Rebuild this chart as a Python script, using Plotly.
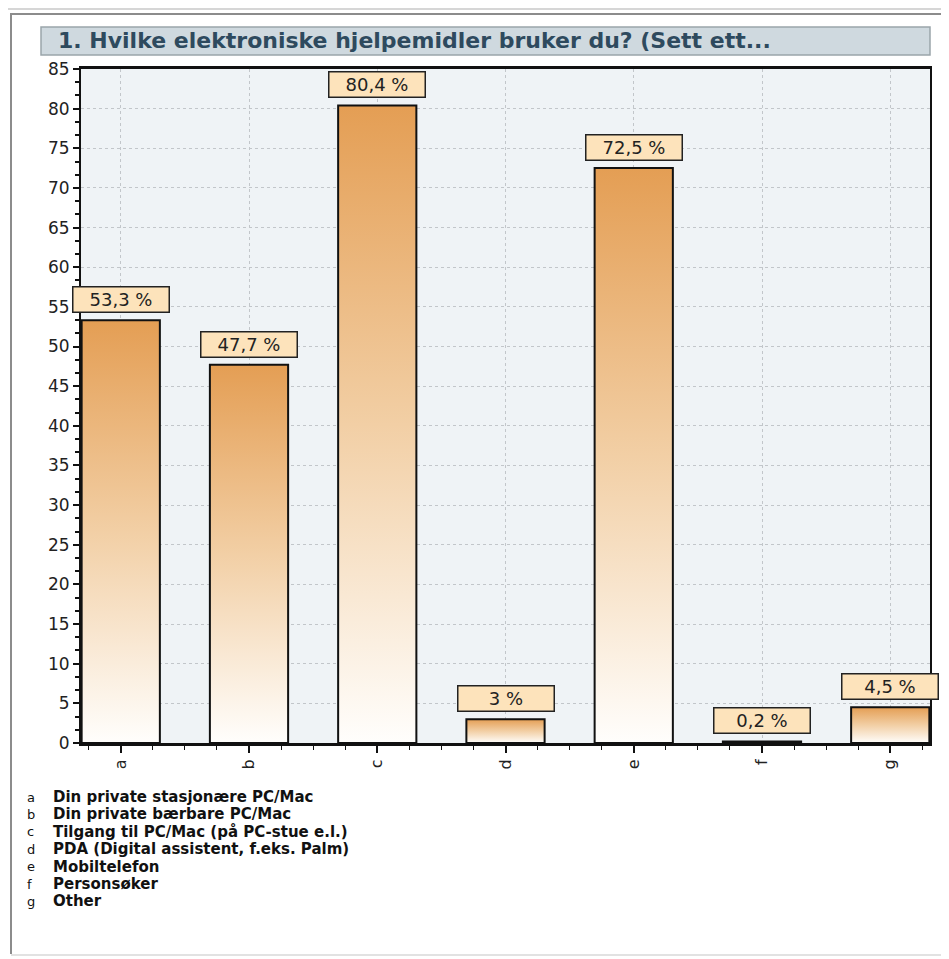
import plotly.graph_objects as go

# data
categories = ["a", "b", "c", "d", "e", "f", "g"]
values = [53.3, 47.7, 80.4, 3.0, 72.5, 0.2, 4.5]
value_labels = ["53,3 %", "47,7 %", "80,4 %", "3 %", "72,5 %", "0,2 %", "4,5 %"]
descriptions = [
    "Din private stasjonære PC/Mac",
    "Din private bærbare PC/Mac",
    "Tilgang til PC/Mac (på PC-stue e.l.)",
    "PDA (Digital assistent, f.eks. Palm)",
    "Mobiltelefon",
    "Personsøker",
    "Other",
]
y_ticks = list(range(0, 90, 5))
title_text = "1. Hvilke elektroniske hjelpemidler bruker du? (Sett ett..."

# page has an 8px body margin, so the figure is a bit smaller than the window
OFF = 8
W, H = 949 - OFF, 959 - OFF
# plot area in page pixels
PL, PR, PT, PB = 81, 930, 69, 743
FONT = "DejaVu Sans"
BAR_HALF = 0.305


def px_x(p):
    return (p - PL) / (PR - PL)


def px_y(p):
    return (PB - p) / (PB - PT)


fig = go.Figure()

# bars drawn as filled rectangles so each one gets its own vertical gradient
for i, v in enumerate(values):
    fig.add_trace(go.Scatter(
        x=[i - BAR_HALF, i + BAR_HALF, i + BAR_HALF, i - BAR_HALF, i - BAR_HALF],
        y=[0, 0, v, v, 0],
        mode="lines",
        fill="toself",
        fillgradient=dict(type="vertical",
                          colorscale=[[0, "#fffefc"], [0.5, "#f2cfa5"], [1, "#e49e54"]]),
        line=dict(color="#111111", width=2),
        hoverinfo="skip",
        showlegend=False,
    ))

annotations = []
for i, (v, lab) in enumerate(zip(values, value_labels)):
    annotations.append(dict(
        x=i, y=v, xref="x", yref="y", text=lab, showarrow=False,
        yanchor="bottom", yshift=7, width=93, height=22,
        font=dict(family=FONT, size=18, color="#222222"),
        bgcolor="#fde3bb", bordercolor="#222222", borderwidth=1.5, borderpad=1,
    ))

# title
annotations.append(dict(
    x=px_x(56), y=px_y(41), xref="paper", yref="paper", text="<b>%s</b>" % title_text,
    showarrow=False, xanchor="left", yanchor="middle",
    font=dict(family=FONT, size=22, color="#2e4a5e"),
))

# category legend below the chart
for k, (c, d) in enumerate(zip(categories, descriptions)):
    yy = px_y(797 + k * 17.4)
    annotations.append(dict(
        x=px_x(25), y=yy, xref="paper", yref="paper", text=c, showarrow=False,
        xanchor="left", yanchor="middle",
        font=dict(family=FONT, size=13, color="#111111"),
    ))
    annotations.append(dict(
        x=px_x(51), y=yy, xref="paper", yref="paper", text="<b>%s</b>" % d,
        showarrow=False, xanchor="left", yanchor="middle",
        font=dict(family=FONT, size=15, color="#111111"),
    ))

shapes = [
    # outer frame
    dict(type="line", xref="paper", yref="paper", x0=px_x(OFF), x1=px_x(949),
         y0=px_y(9), y1=px_y(9), line=dict(color="#d6d6d6", width=2), layer="below"),
    dict(type="line", xref="paper", yref="paper", x0=px_x(10), x1=px_x(949),
         y0=px_y(14), y1=px_y(14), line=dict(color="#8c8c8c", width=2), layer="below"),
    dict(type="line", xref="paper", yref="paper", x0=px_x(11), x1=px_x(11),
         y0=px_y(14), y1=px_y(954), line=dict(color="#8c8c8c", width=2), layer="below"),
    dict(type="line", xref="paper", yref="paper", x0=px_x(11), x1=px_x(949),
         y0=px_y(955), y1=px_y(955), line=dict(color="#e2e2e2", width=2), layer="below"),
    # title bar
    dict(type="rect", xref="paper", yref="paper", x0=px_x(41), x1=px_x(930),
         y0=px_y(55), y1=px_y(27), fillcolor="#cfd9df",
         line=dict(color="#9aa5ab", width=1.5), layer="below"),
]

fig.update_layout(
    width=W, height=H,
    margin=dict(l=PL - OFF, r=949 - PR, t=PT - OFF, b=959 - PB),
    paper_bgcolor="white",
    plot_bgcolor="#eff3f6",
    font=dict(family=FONT, color="#222222"),
    annotations=annotations,
    shapes=shapes,
    showlegend=False,
    xaxis=dict(
        range=[-0.31, 6.31],
        tickmode="array", tickvals=list(range(len(categories))), ticktext=categories,
        tickangle=-90,
        tickfont=dict(family=FONT, size=16, color="#222222"),
        ticks="outside", ticklen=7, tickwidth=2, tickcolor="#111111",
        minor=dict(tickmode="linear", tick0=0, dtick=0.25, ticks="outside",
                   ticklen=4, tickwidth=1, tickcolor="#111111", showgrid=False),
        showgrid=True, gridcolor="#c2c6ca", griddash="dot", gridwidth=1,
        showline=True, linecolor="#111111", linewidth=3, mirror=True,
        zeroline=False, fixedrange=True,
    ),
    yaxis=dict(
        range=[0, 85],
        tickmode="array", tickvals=y_ticks,
        tickfont=dict(family=FONT, size=17, color="#222222"),
        ticks="outside", ticklen=6, tickwidth=2, tickcolor="#111111",
        minor=dict(tickmode="linear", tick0=0, dtick=5 / 3, ticks="outside",
                   ticklen=4, tickwidth=1.5, tickcolor="#111111", showgrid=False),
        showgrid=True, gridcolor="#c2c6ca", griddash="dot", gridwidth=1,
        showline=True, linecolor="#111111", linewidth=2, mirror=True,
        zeroline=False, fixedrange=True,
    ),
)

fig.write_html("out.html")
